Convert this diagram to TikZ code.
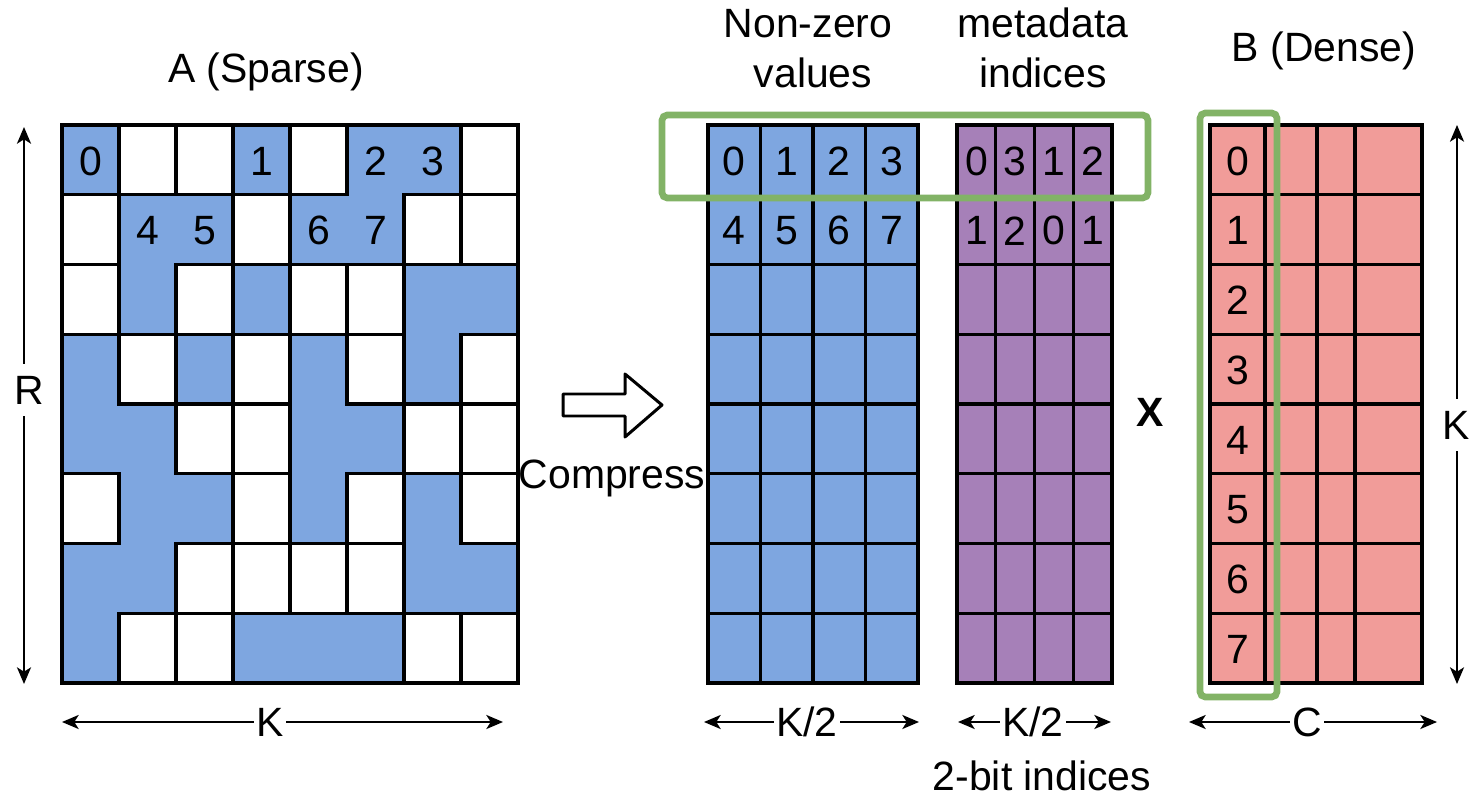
\documentclass[tikz,border=0pt]{standalone}
\usepackage{fontspec}
\setmainfont{Liberation Sans}
\usetikzlibrary{arrows.meta}
\definecolor{cblue}{HTML}{7EA6E0}
\definecolor{cpurple}{HTML}{A680B8}
\definecolor{cred}{HTML}{F19C99}
\definecolor{cgreen}{HTML}{82B366}
\begin{document}
\begin{tikzpicture}[x=0.02cm,y=-0.02cm,
  txt/.style={font=\fontsize{23.3pt}{28pt}\selectfont, inner sep=0pt},
  gridline/.style={line width=1.8pt},
  dim/.style={line width=1.1pt,
    {Stealth[length=9.5pt,width=8pt,inset=2.5pt]}-{Stealth[length=9.5pt,width=8pt,inset=2.5pt]}},
  hl/.style={draw=cgreen, line width=3.8pt, rounded corners=3pt},
  hlbl/.style={txt, fill=white, inner xsep=1.5pt, inner ysep=0pt},
  vlbl/.style={txt, fill=white, inner xsep=0pt, inner ysep=7pt}
]
\useasboundingbox (0,0) rectangle (1470,797);

% ---------------- Matrix A (sparse) ----------------
\fill[cblue] (62,125) rectangle (518,683);
\foreach \r/\cl in {0/{1,2,4,7},1/{0,3,6,7},2/{0,2,4,5},3/{1,3,5,7},
                    4/{2,3,6,7},5/{0,3,5,7},6/{2,3,4,5},7/{1,2,6,7}}{
  \foreach \c in \cl {
    \draw[gridline, fill=white] (62+57*\c,125+69.75*\r) rectangle ++(57,69.75);
  }
}
\draw[gridline] (62,125) rectangle (518,683);
\foreach \n/\c/\r in {0/0/0,1/3/0,2/5/0,3/6/0,4/1/1,5/2/1,6/4/1,7/5/1}{
  \node[txt] (a\n) at (62+57*\c+28.5,125+69.75*\r+36) {\n};
}

% ---------------- Non-zero values ----------------
\fill[cblue] (708,125) rectangle (918,683);
\foreach \i in {1,2,3}{
  \draw[gridline] (708+52.5*\i,125) -- (708+52.5*\i,683);
}
\foreach \r in {2,...,7}{
  \draw[gridline] (708,125+69.75*\r) -- (918,125+69.75*\r);
}
\draw[gridline] (708,125) rectangle (918,683);
\foreach \n/\c/\r in {0/0/0,1/1/0,2/2/0,3/3/0,4/0/1,5/1/1,6/2/1,7/3/1}{
  \node[txt] (v\n) at (708+52.5*\c+26.25,125+69.75*\r+36) {\n};
}

% ---------------- Metadata ----------------
\fill[cpurple] (957,125) rectangle (1112,683);
\foreach \i in {1,2,3}{
  \draw[gridline] (957+38.75*\i,125) -- (957+38.75*\i,683);
}
\foreach \r in {2,...,7}{
  \draw[gridline] (957,125+69.75*\r) -- (1112,125+69.75*\r);
}
\draw[gridline] (957,125) rectangle (1112,683);
\foreach \k/\d/\c/\r in {0/0/0/0,1/3/1/0,2/1/2/0,3/2/3/0,4/1/0/1,5/2/1/1,6/0/2/1,7/1/3/1}{
  \node[txt] (m\k) at (957+38.75*\c+19.4,125+69.75*\r+36) {\d};
}

% ---------------- Matrix B (dense) ----------------
\fill[cred] (1210,125) rectangle (1422,683);
\foreach \x in {1265,1317,1355}{
  \draw[gridline] (\x,125) -- (\x,683);
}
\foreach \r in {1,...,7}{
  \draw[gridline] (1210,125+69.75*\r) -- (1422,125+69.75*\r);
}
\draw[gridline] (1210,125) rectangle (1422,683);
\foreach \n in {0,...,7}{
  \node[txt] (b\n) at (1237.5,125+69.75*\n+36) {\n};
}

% ---------------- Highlights ----------------
\draw[hl] (662,115) rectangle (1148,198);
\draw[hl] (1200,113) rectangle (1277,697);

% ---------------- Titles ----------------
\node[txt, anchor=base] (tA) at (266,83) {A (Sparse)};
\node[txt, anchor=base] (tV1) at (808,38) {Non-zero};
\node[txt, anchor=base] (tV2) at (813,88) {values};
\node[txt, anchor=base] (tM1) at (1043,38) {metadata};
\node[txt, anchor=base] (tM2) at (1043,88) {indices};
\node[txt, anchor=base] (tB) at (1324,62) {B (Dense)};

% ---------------- Compress arrow ----------------
\draw[line width=1.7pt, line join=round, fill=white]
  (563,394) -- (625,394) -- (625,374) -- (662,405) -- (625,437) -- (625,416) -- (563,416) -- cycle;
\node[txt] (compress) at (612,478) {Compress};
\node[txt, font=\fontsize{23.3pt}{28pt}\selectfont\bfseries] (times) at (1150,412) {X};

% ---------------- Dimension arrows ----------------
\coordinate (rt) at (24,127);
\coordinate (rb) at (24,684);
\draw[dim] (rt) -- (rb);
\node[vlbl] (lR) at (29,390) {R};

\coordinate (kt) at (1457,125);
\coordinate (kb) at (1457,684);
\draw[dim] (kt) -- (kb);
\node[vlbl] (lK) at (1456,425) {K};

\coordinate (ka1) at (62,722);
\coordinate (ka2) at (503,722);
\draw[dim] (ka1) -- (ka2);
\node[hlbl] (lKA) at (270,722) {K};

\coordinate (kv1) at (704,722);
\coordinate (kv2) at (919,722);
\draw[dim] (kv1) -- (kv2);
\node[hlbl] (lKV) at (807,722) {K/2};

\coordinate (km1) at (958,722);
\coordinate (km2) at (1111,722);
\draw[dim] (km1) -- (km2);
\node[hlbl] (lKM) at (1033,722) {K/2};

\coordinate (c1) at (1189,722);
\coordinate (c2) at (1437,722);
\draw[dim] (c1) -- (c2);
\node[hlbl] (lC) at (1307,722) {C};

\node[txt, anchor=base] (bits) at (1042,790) {2-bit indices};
\end{tikzpicture}
\end{document}
